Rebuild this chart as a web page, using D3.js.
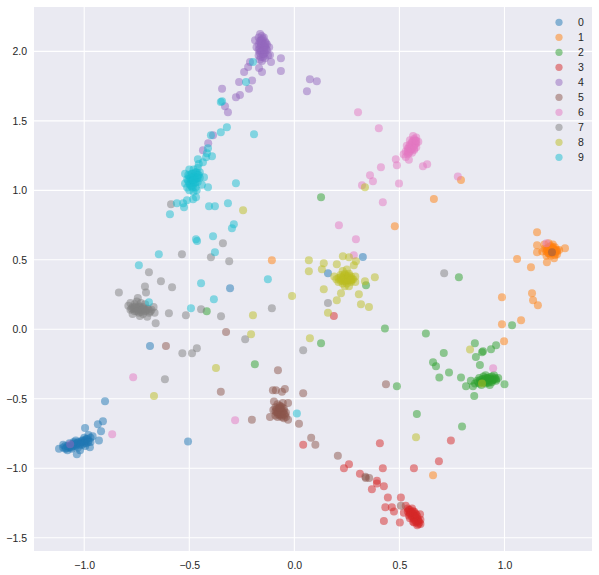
<!DOCTYPE html>
<html><head><meta charset="utf-8">
<script src="https://cdn.jsdelivr.net/npm/d3@7"></script>
<style>body{margin:0;background:#fff}svg{display:block}text{font-family:"Liberation Sans",Arial,"DejaVu Sans",sans-serif}</style>
</head><body><svg id="c" width="599" height="575"></svg>
<script>
const classes = ["0","1","2","3","4","5","6","7","8","9"];
const colors = ["#1f77b4","#ff7f0e","#2ca02c","#d62728","#9467bd","#8c564b","#e377c2","#7f7f7f","#bcbd22","#17becf"];
const xTicks = [-1.0,-0.5,0.0,0.5,1.0];
const yTicks = [-1.5,-1.0,-0.5,0.0,0.5,1.0,1.5,2.0];

const pts0 = [[-1.12,-0.86],[-1.10,-0.85],[-1.09,-0.86],[-1.08,-0.84],[-1.07,-0.85],[-1.06,-0.83],[-1.05,-0.84],[-1.05,-0.82],[-1.04,-0.83],[-1.03,-0.81],[-1.03,-0.85],[-1.02,-0.82],[-1.01,-0.80],[-1.01,-0.83],[-1.00,-0.81],[-0.99,-0.79],[-0.99,-0.82],[-0.98,-0.80],[-0.97,-0.78],[-0.97,-0.81],[-0.96,-0.77],[-1.06,-0.86],[-1.08,-0.87],[-1.04,-0.80],[-1.00,-0.78],[-0.98,-0.76],[-1.10,-0.83],[-1.02,-0.87],[-0.995,-0.84],[-1.07,-0.82],
[-1.085,-0.855],[-1.075,-0.845],[-1.065,-0.84],[-1.055,-0.835],[-1.045,-0.825],[-1.035,-0.82],[-1.025,-0.815],[-1.015,-0.81],[-1.005,-0.80],[-0.995,-0.80],[-0.985,-0.79],[-1.06,-0.85],[-1.04,-0.84],[-1.02,-0.83],[-1.00,-0.82],[-0.98,-0.81],[-1.09,-0.84],[-1.05,-0.81],
[-0.901,-0.518],[-0.935,-0.683],[-0.911,-0.662],[-0.92,-0.734],[-0.93,-0.80],[-0.996,-0.71],[-0.973,-0.849],[-1.035,-0.898],[-0.506,-0.808],[-0.687,-0.12],[-0.306,0.296],[0.326,0.52],[0.16,0.404]];
const pts1 = [[1.19,0.58],[1.20,0.56],[1.21,0.59],[1.21,0.55],[1.22,0.57],[1.22,0.60],[1.23,0.55],[1.23,0.58],[1.24,0.56],[1.24,0.59],[1.25,0.57],[1.20,0.53],[1.22,0.53],[1.25,0.54],[1.26,0.57],[1.21,0.62],[1.19,0.61],[1.23,0.61],[1.18,0.56],[1.22,0.545],[1.24,0.535],[1.215,0.575],[1.235,0.565],
[1.205,0.57],[1.215,0.56],[1.225,0.58],[1.235,0.575],[1.245,0.565],[1.225,0.555],[1.21,0.545],[1.23,0.59],[1.20,0.58],[1.24,0.55],[1.215,0.59],[1.25,0.56],
[1.155,0.699],[1.288,0.584],[1.155,0.605],[1.155,0.555],[1.202,0.483],[1.236,0.512],[1.06,0.505],[1.126,0.447],[1.131,0.26],[1.136,0.21],[1.159,0.174],[1.079,0.065],[0.988,0.23],[0.988,0.037],[0.998,-0.086],[0.66,-1.05],[0.793,1.074],[0.664,0.937],[0.478,0.742],[-0.107,0.497]];
const pts2 = [[0.87,-0.37],[0.88,-0.35],[0.89,-0.38],[0.90,-0.34],[0.90,-0.37],[0.91,-0.39],[0.92,-0.35],[0.92,-0.38],[0.93,-0.36],[0.94,-0.34],[0.94,-0.38],[0.95,-0.36],[0.96,-0.37],[0.89,-0.40],[0.91,-0.33],[0.93,-0.40],[0.86,-0.39],[0.85,-0.41],[0.97,-0.35],[0.915,-0.365],[0.905,-0.355],[0.925,-0.37],[0.88,-0.39],[0.95,-0.33],[0.84,-0.37],
[0.885,-0.365],[0.895,-0.36],[0.905,-0.375],[0.915,-0.35],[0.925,-0.385],[0.935,-0.355],[0.945,-0.365],[0.955,-0.35],[0.90,-0.385],[0.92,-0.36],[0.94,-0.37],[0.875,-0.38],[0.91,-0.37],[0.93,-0.345],[0.96,-0.36],
[0.431,0.006],[0.626,-0.03],[0.127,-0.10],[0.859,-0.10],[0.711,-0.17],[0.66,-0.237],[0.674,-0.266],[0.736,-0.31],[0.69,-0.346],[0.793,-0.346],[0.893,-0.165],[0.898,-0.157],[0.936,-0.143],[0.96,-0.115],[0.864,-0.20],[0.883,-0.257],[1.036,0.03],[0.488,-0.41],[0.583,-0.61],[0.798,-0.70],[0.856,-0.48],[0.817,-0.41],[1.0,-0.396],[0.127,0.95],[0.783,0.374],[-0.417,0.13],[-0.188,-0.252],[0.341,0.317]];
const pts3 = [[0.53,-1.27],[0.54,-1.29],[0.54,-1.31],[0.55,-1.30],[0.55,-1.33],[0.56,-1.32],[0.56,-1.35],[0.57,-1.34],[0.57,-1.37],[0.58,-1.36],[0.58,-1.39],[0.59,-1.38],[0.59,-1.40],[0.60,-1.37],[0.57,-1.31],[0.56,-1.29],[0.585,-1.41],[0.55,-1.36],[0.58,-1.33],[0.565,-1.385],[0.545,-1.34],[0.60,-1.40],[0.575,-1.355],
[0.545,-1.30],[0.555,-1.315],[0.565,-1.33],[0.575,-1.345],[0.585,-1.36],[0.59,-1.375],[0.56,-1.34],[0.57,-1.36],[0.58,-1.38],[0.55,-1.32],[0.565,-1.31],[0.575,-1.325],[0.585,-1.345],[0.595,-1.39],[0.57,-1.39],
[0.369,-1.15],[0.426,-1.13],[0.393,-1.11],[0.445,-1.21],[0.507,-1.21],[0.433,-1.28],[0.464,-1.28],[0.474,-1.31],[0.426,-1.38],[0.502,-1.39],[0.598,-1.33],[0.521,-1.32],[0.042,-0.83],[0.407,-0.82],[0.745,-0.80],[0.688,-0.95],[0.569,-1.0],[0.421,-1.0],[0.236,-1.0],[0.26,-0.97],[0.312,-1.04],[0.393,-1.09],[0.188,0.095]];
const pts4 = [[-0.17,2.10],[-0.16,2.08],[-0.15,2.09],[-0.14,2.07],[-0.17,2.05],[-0.16,2.04],[-0.15,2.06],[-0.14,2.03],[-0.13,2.05],[-0.17,2.01],[-0.16,2.00],[-0.15,2.02],[-0.14,1.99],[-0.13,2.01],[-0.12,2.03],[-0.17,1.97],[-0.16,1.96],[-0.15,1.98],[-0.14,1.95],[-0.18,2.03],[-0.155,2.11],[-0.145,2.10],[-0.165,1.94],[-0.125,1.97],
[-0.165,2.07],[-0.155,2.05],[-0.145,2.04],[-0.135,2.02],[-0.165,2.02],[-0.155,2.00],[-0.145,1.98],[-0.135,2.06],[-0.155,2.08],[-0.165,1.99],[-0.145,2.01],[-0.15,1.96],[-0.16,2.06],[-0.14,2.05],
[-0.187,2.08],[-0.163,2.125],[-0.116,1.973],[-0.064,1.95],[-0.111,1.923],[-0.064,1.858],[-0.154,1.93],[-0.211,1.923],[-0.22,1.887],[-0.168,1.88],[-0.154,1.852],[-0.239,1.852],[-0.263,1.78],[-0.201,1.79],[-0.216,1.73],[-0.259,1.685],[-0.278,1.67],[-0.344,1.73],[-0.33,1.605],[-0.316,1.562],[0.074,1.80],[0.107,1.785],[0.06,1.713],[-0.41,1.339],[-0.435,1.289],[-0.387,1.397],[-1.067,-0.827]];
const pts5 = [[-0.09,-0.56],[-0.08,-0.54],[-0.07,-0.55],[-0.06,-0.56],[-0.05,-0.57],[-0.09,-0.59],[-0.08,-0.60],[-0.07,-0.58],[-0.06,-0.59],[-0.05,-0.61],[-0.04,-0.60],[-0.08,-0.63],[-0.07,-0.62],[-0.06,-0.63],[-0.05,-0.64],[-0.09,-0.62],[-0.04,-0.63],[-0.065,-0.61],[-0.075,-0.57],[-0.055,-0.53],[-0.1,-0.58],
[-0.085,-0.575],[-0.075,-0.59],[-0.065,-0.575],[-0.055,-0.595],[-0.07,-0.605],[-0.06,-0.62],[-0.08,-0.61],[-0.05,-0.585],[-0.065,-0.555],[-0.045,-0.615],[-0.085,-0.595],[-0.07,-0.565],
[-0.078,-0.295],[-0.102,-0.438],[-0.088,-0.438],[-0.059,-0.45],[-0.045,-0.43],[0.042,-0.46],[-0.35,-0.45],[-0.202,-0.65],[-0.116,-0.63],[-0.03,-0.65],[0.022,-0.68],[0.08,-0.78],[0.1,-0.83],[0.207,-0.91],[-0.097,-0.52],[-0.03,-0.53],[-0.325,-0.02],[-0.611,-0.12],[0.436,-0.395],[0.338,-1.06],[0.356,-1.07],[0.34,-1.07],[0.507,-1.27],[1.226,0.554]];
const pts6 = [[0.53,1.24],[0.54,1.26],[0.55,1.28],[0.56,1.30],[0.57,1.32],[0.58,1.34],[0.56,1.35],[0.55,1.33],[0.54,1.30],[0.57,1.37],[0.58,1.38],[0.55,1.36],[0.53,1.28],[0.52,1.26],[0.59,1.35],[0.56,1.27],[0.545,1.22],[0.57,1.29],[0.58,1.31],[0.535,1.32],[0.565,1.39],
[0.545,1.27],[0.555,1.295],[0.565,1.315],[0.575,1.335],[0.565,1.355],[0.555,1.32],[0.545,1.31],[0.575,1.36],[0.56,1.34],[0.55,1.30],[0.58,1.355],[0.57,1.30],[0.54,1.28],
[0.303,1.562],[0.402,1.447],[0.412,1.166],[0.36,1.109],[0.374,1.065],[0.322,1.036],[0.488,1.18],[0.498,1.05],[0.483,1.224],[0.612,1.174],[0.632,1.188],[0.778,1.10],[0.421,0.914],[0.212,0.749],[0.293,0.648],[0.283,0.533],[-0.867,-0.755],[-0.767,-0.345],[-0.282,-0.654],[0.946,-0.28],[1.2,0.62]];
const pts7 = [[-0.79,0.17],[-0.78,0.14],[-0.77,0.16],[-0.76,0.13],[-0.76,0.18],[-0.75,0.15],[-0.74,0.12],[-0.74,0.17],[-0.73,0.14],[-0.72,0.16],[-0.72,0.11],[-0.71,0.13],[-0.70,0.15],[-0.69,0.12],[-0.68,0.14],[-0.67,0.16],[-0.75,0.20],[-0.73,0.19],[-0.77,0.11],[-0.70,0.09],[-0.735,0.095],[-0.665,0.12],[-0.745,0.225],[-0.78,0.19],[-0.71,0.18],
[-0.775,0.15],[-0.765,0.145],[-0.755,0.165],[-0.745,0.14],[-0.735,0.16],[-0.725,0.135],[-0.715,0.15],[-0.705,0.135],[-0.695,0.145],[-0.76,0.155],[-0.74,0.155],[-0.72,0.145],[-0.75,0.13],[-0.73,0.125],[-0.685,0.13],
[-0.835,0.265],[-0.711,0.308],[-0.706,0.265],[-0.692,0.411],[-0.635,0.346],[-0.582,0.303],[-0.597,0.115],[-0.66,0.044],[-0.516,0.101],[-0.535,0.54],[-0.397,0.518],[-0.34,0.62],[-0.31,0.49],[-0.444,0.145],[-0.349,0.094],[-0.107,0.152],[-0.234,-0.072],[-0.533,-0.173],[-0.487,-0.173],[-0.464,-0.136],[-0.616,-0.36],[-0.587,0.90],[0.713,0.403],[0.16,0.19],[0.042,-0.15]];
const pts8 = [[0.21,0.37],[0.22,0.35],[0.22,0.39],[0.23,0.33],[0.23,0.37],[0.24,0.40],[0.24,0.35],[0.25,0.38],[0.25,0.33],[0.26,0.36],[0.26,0.40],[0.27,0.34],[0.27,0.38],[0.28,0.36],[0.23,0.42],[0.25,0.43],[0.21,0.34],[0.20,0.36],[0.29,0.38],[0.24,0.31],[0.26,0.31],[0.235,0.365],[0.255,0.355],[0.29,0.34],[0.19,0.38],
[0.225,0.36],[0.235,0.38],[0.245,0.37],[0.245,0.345],[0.255,0.375],[0.265,0.35],[0.265,0.37],[0.275,0.36],[0.24,0.39],[0.23,0.35],[0.25,0.36],[0.26,0.385],[0.22,0.375],[0.27,0.355],
[0.069,0.497],[0.069,0.418],[0.14,0.475],[0.131,0.432],[0.202,0.468],[0.231,0.525],[0.26,0.518],[0.293,0.49],[0.283,0.461],[0.383,0.375],[0.336,0.346],[0.14,0.289],[0.222,0.26],[0.202,0.21],[0.307,0.252],[0.317,0.18],[0.355,0.16],[0.16,0.12],[-0.011,0.24],[0.336,1.022],[0.074,-0.064],[-0.244,0.857],[-0.197,0.101],[-0.206,-0.035],[-0.373,-0.279],[-0.668,-0.48],[0.836,-0.145],[0.579,-0.776],[0.893,-0.39]];
const pts9 = [[-0.52,1.05],[-0.51,1.08],[-0.51,1.02],[-0.50,1.10],[-0.50,1.05],[-0.50,1.00],[-0.49,1.12],[-0.49,1.07],[-0.49,1.03],[-0.48,1.15],[-0.48,1.10],[-0.48,1.05],[-0.48,0.99],[-0.47,1.13],[-0.47,1.08],[-0.47,1.02],[-0.46,1.16],[-0.46,1.11],[-0.46,1.06],[-0.45,1.13],[-0.45,1.09],[-0.44,1.04],[-0.52,1.12],[-0.455,1.19],[-0.465,1.0],[-0.50,1.15],
[-0.505,1.065],[-0.495,1.085],[-0.485,1.07],[-0.475,1.095],[-0.465,1.085],[-0.455,1.11],[-0.495,1.04],[-0.485,1.12],[-0.475,1.05],[-0.465,1.13],[-0.505,1.11],[-0.485,1.02],[-0.47,1.06],[-0.49,1.09],[-0.48,1.075],[-0.46,1.09],
[-0.35,1.635],[-0.321,1.454],[-0.35,1.418],[-0.397,1.397],[-0.192,1.404],[-0.411,1.303],[-0.416,1.267],[-0.42,1.238],[-0.392,1.245],[-0.459,1.224],[-0.435,1.202],[-0.43,1.094],[-0.278,1.051],[-0.411,1.022],[-0.468,0.95],[-0.482,0.936],[-0.511,0.929],[-0.529,0.907],[-0.559,0.907],[-0.525,0.878],[-0.592,0.827],[-0.406,0.886],[-0.378,0.886],[-0.316,0.907],[-0.288,0.756],[-0.297,0.727],[-0.387,0.67],[-0.468,0.648],[-0.463,0.635],[-0.378,0.555],[-0.645,0.54],[-0.74,0.461],[-0.444,0.332],[-0.126,0.36],[-0.383,0.216],[-0.492,0.152],[-0.692,0.195],[-0.197,1.923],[-0.23,1.78],[-0.344,1.64],[0.012,-0.605]];
const series = [pts0,pts1,pts2,pts3,pts4,pts5,pts6,pts7,pts8,pts9];

const svg = d3.select("#c");
const L=34,R=592,T=7,B=551;
const x = d3.scaleLinear().domain([-1.239,1.4165]).range([L,R]);
const y = d3.scaleLinear().domain([-1.595,2.319]).range([B,T]);

svg.append("rect").attr("x",L).attr("y",T).attr("width",R-L).attr("height",B-T).attr("fill","#eaeaf2");
const g = svg.append("g");
g.selectAll(".gx").data(xTicks).join("line").attr("x1",d=>x(d)).attr("x2",d=>x(d)).attr("y1",T).attr("y2",B).attr("stroke","#fff").attr("stroke-width",1.1);
g.selectAll(".gy").data(yTicks).join("line").attr("y1",d=>y(d)).attr("y2",d=>y(d)).attr("x1",L).attr("x2",R).attr("stroke","#fff").attr("stroke-width",1.1);

const fmt = d => d3.format(".1f")(d).replace("-","\u2212");
const xa = svg.append("g").attr("transform",`translate(0,${B})`).call(d3.axisBottom(x).tickValues(xTicks).tickFormat(fmt).tickSize(0).tickPadding(11));
const ya = svg.append("g").attr("transform",`translate(${L},0)`).call(d3.axisLeft(y).tickValues(yTicks).tickFormat(fmt).tickSize(0).tickPadding(7));
[xa,ya].forEach(a=>{a.select(".domain").remove();a.selectAll("text").attr("fill","#262626").style("font-size","10.5px").style("font-family","'Liberation Sans',Arial,sans-serif");});

series.forEach((pts,i)=>{
  svg.append("g").selectAll("circle").data(pts).join("circle")
    .attr("cx",d=>x(d[0])).attr("cy",d=>y(d[1])).attr("r",4)
    .attr("fill",colors[i]).attr("fill-opacity",0.5);
});

const lg = svg.append("g");
classes.forEach((c,i)=>{
  lg.append("circle").attr("cx",559).attr("cy",22.3+15*i).attr("r",3.6).attr("fill",colors[i]).attr("fill-opacity",0.5);
  lg.append("text").attr("x",578).attr("y",22.3+15*i).attr("dy","0.35em").attr("fill","#262626").style("font-size","10.5px").text(c);
});
</script></body></html>
